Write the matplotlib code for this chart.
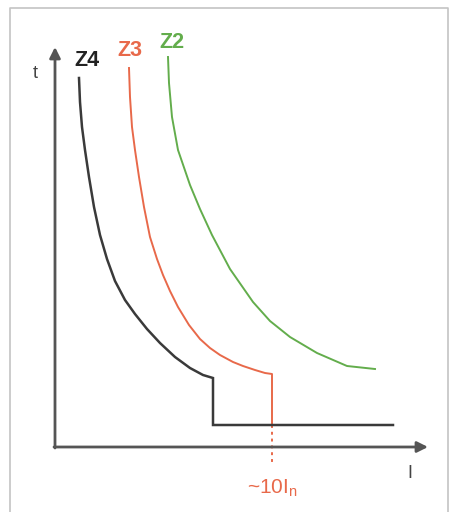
import numpy as np
import matplotlib
matplotlib.use('Agg')
import matplotlib.pyplot as plt

# curve points (I to the right, t upwards, origin at the axis corner)
z4_I = [24, 25, 27, 30, 34, 39, 45, 52, 60, 70, 80, 92, 105, 120, 135, 148, 158, 158, 338]
z4_t = [369, 345, 320, 297, 270, 240, 212, 188, 166, 147, 133, 118, 104, 90, 79, 72, 69, 22, 22]

z3_I = [74, 75, 77, 80, 84, 89, 95, 102, 108, 115, 123, 134, 145, 155, 165, 178, 188, 200, 210, 217, 217]
z3_t = [379, 350, 320, 297, 270, 240, 210, 188, 172, 156, 140, 122, 108, 99, 92, 85, 81, 77, 74, 73, 22]

z2_I = [113, 114, 117, 123, 135, 145, 157, 175, 198, 215, 235, 262, 292, 320]
z2_t = [390, 364, 330, 297, 262, 238, 212, 178, 145, 126, 110, 94, 81, 78]

trip_I = 217          # ~10 In
trip_dot = [22, -18]

black = '#3a3a3a'
red = '#e8694a'
green = '#63ad4c'
axis_col = '#555555'

fig = plt.figure(figsize=(4.49, 5.12), dpi=100)
ax = fig.add_axes([0, 0, 1, 1])
ax.set_xlim(-55, 394)
ax.set_ylim(-65, 447)
ax.axis('off')

# light frame round the picture
ax.plot([-45, -45, 393, 393], [-70, 439, 439, -70], color='#c4c4c4', lw=1.2)

# axes with arrow heads
ax.annotate('', xy=(0, 400), xytext=(0, -1),
            arrowprops=dict(arrowstyle='-|>', color=axis_col, lw=2, mutation_scale=16,
                            shrinkA=0, shrinkB=0))
ax.annotate('', xy=(373, 0), xytext=(-1, 0),
            arrowprops=dict(arrowstyle='-|>', color=axis_col, lw=2, mutation_scale=16,
                            shrinkA=0, shrinkB=0))

ax.plot(z2_I, z2_t, color=green, lw=1.4)
ax.plot(z3_I, z3_t, color=red, lw=1.4)
ax.plot(trip_I * np.ones(2), trip_dot, color=red, lw=1.4, ls=(0, (1.5, 2)))
ax.plot(z4_I, z4_t, color=black, lw=1.8, solid_joinstyle='miter')

font = dict(family='Liberation Sans', fontsize=15.5, fontweight='bold')
ax.text(32, 387, 'Z4', color='#222222', ha='center', va='center', **font)
ax.text(75, 396, 'Z3', color=red, ha='center', va='center', **font)
ax.text(117, 405, 'Z2', color=green, ha='center', va='center', **font)

ax.text(-20, 374, 't', color='#444444', ha='center', va='center',
        family='Liberation Sans', fontsize=13)
ax.text(355, -26, 'I', color='#444444', ha='center', va='center',
        family='Liberation Sans', fontsize=13)
ax.text(trip_I, -41, r'~10I$_\mathregular{n}$', color=red, ha='center', va='center',
        family='Liberation Sans', fontsize=15)

fig.savefig('out.png', dpi=100)
